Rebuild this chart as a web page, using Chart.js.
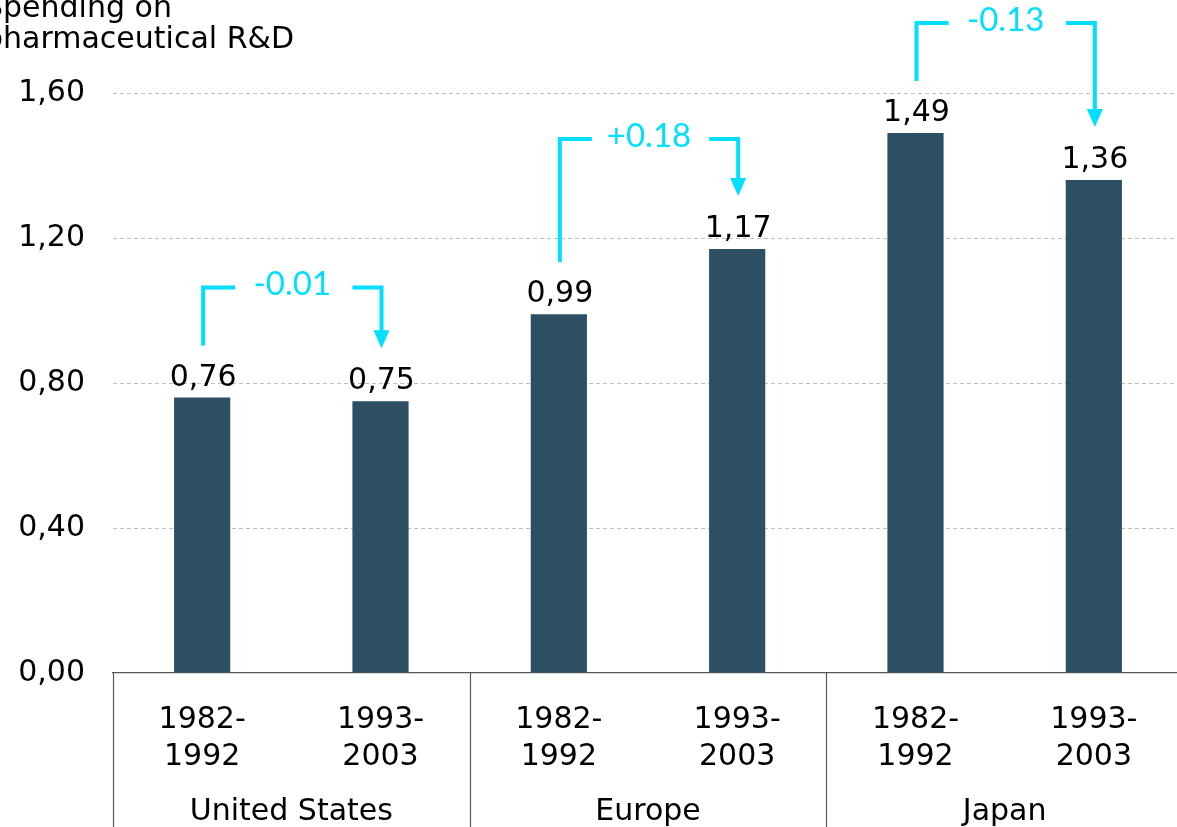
<!DOCTYPE html>
<html>
<head>
<meta charset="utf-8">
<script src="https://cdn.jsdelivr.net/npm/chart.js@4"></script>
<style>
  html, body { margin: 0; padding: 0; background: #fff; overflow: hidden; }
  #wrap { width: 1183px; height: 827px; position: relative; }
</style>
</head>
<body>
<div id="wrap"><canvas id="chart"></canvas></div>
<script>
    // datos
    const titleLines = ["Spending on", "pharmaceutical R&D"];
    const groups = ["United States", "Europe", "Japan"];
    const periods = [["1982-", "1992"], ["1993-", "2003"]];
    const values = [0.76, 0.75, 0.99, 1.17, 1.49, 1.36];
    const changes = ["-0.01", "+0.18", "-0.13"];
    const yTicks = [0, 0.4, 0.8, 1.2, 1.6];

    const labels = [];
    groups.forEach(() => periods.forEach(p => labels.push(p)));

    const fuente = '"DejaVu Sans", Verdana, sans-serif';
    const cian = "#00DFFF";
    const fmt = v => v.toFixed(2).replace(".", ",");

    const extras = {
        id: "extras",
        afterDraw(chart) {
            const ctx = chart.ctx;
            const x = chart.scales.x;
            const area = chart.chartArea;
            const meta = chart.getDatasetMeta(0);
            ctx.save();

            // titulo (cortado a la izquierda)
            ctx.fillStyle = "#000";
            ctx.font = "30px " + fuente;
            ctx.textAlign = "left";
            ctx.textBaseline = "alphabetic";
            ctx.fillText(titleLines[0], -16, 17);
            ctx.fillText(titleLines[1], -16, 48);

            // etiquetas de valor
            ctx.textAlign = "center";
            meta.data.forEach((bar, i) => {
                ctx.fillText(fmt(values[i]), bar.x + 1, bar.y - 12);
            });

            // separadores de grupo y nombres
            ctx.strokeStyle = "#595959";
            ctx.lineWidth = 1.2;
            for (let g = 0; g <= groups.length; g++) {
                const px = Math.round(x.getPixelForValue(g * 2 - 0.5)) + 0.5;
                ctx.beginPath();
                ctx.moveTo(px, area.bottom);
                ctx.lineTo(px, chart.height);
                ctx.stroke();
            }
            groups.forEach((name, g) => {
                const cx = (x.getPixelForValue(g * 2 - 0.5) + x.getPixelForValue(g * 2 + 1.5)) / 2;
                ctx.fillText(name, cx, 820);
            });

            // corchetes de cambio
            ctx.strokeStyle = cian;
            ctx.fillStyle = cian;
            ctx.lineWidth = 4;
            changes.forEach((txt, g) => {
                const b1 = meta.data[g * 2];
                const b2 = meta.data[g * 2 + 1];
                const x1 = b1.x + 1, x2 = b2.x + 1;
                const nivel = Math.min(b1.y, b2.y) - 110;
                const mid = (x1 + x2) / 2;
                const gap = 32;
                const punta = b2.y - 53;
                ctx.beginPath();
                ctx.moveTo(x1, b1.y - 52);
                ctx.lineTo(x1, nivel);
                ctx.lineTo(x1 + gap, nivel);
                ctx.moveTo(x2 - gap + 3, nivel);
                ctx.lineTo(x2, nivel);
                ctx.lineTo(x2, punta - 16);
                ctx.stroke();
                ctx.beginPath();
                ctx.moveTo(x2 - 8, punta - 18);
                ctx.lineTo(x2 + 8, punta - 18);
                ctx.lineTo(x2, punta);
                ctx.closePath();
                ctx.fill();
                ctx.font = '33px Lato, "Open Sans", sans-serif';
                ctx.textAlign = "center";
                ctx.textBaseline = "middle";
                ctx.fillText(txt, mid, nivel - 3);
            });
            ctx.restore();
        }
    };

    new Chart(document.getElementById("chart"), {
        type: "bar",
        data: {
            labels: labels,
            datasets: [{
                data: values,
                backgroundColor: "#2C4F64",
                categoryPercentage: 1,
                barPercentage: 0.315
            }]
        },
        options: {
            responsive: true,
            maintainAspectRatio: false,
            animation: false,
            layout: { padding: { top: 93, right: 0, bottom: 0, left: 0 } },
            plugins: {
                legend: { display: false },
                tooltip: { enabled: false }
            },
            scales: {
                x: {
                    grid: { display: false },
                    border: { display: true, color: "#595959", width: 1.2 },
                    ticks: {
                        color: "#000",
                        font: { family: fuente, size: 30, lineHeight: 1.23 },
                        padding: 21,
                        maxRotation: 0,
                        autoSkip: false
                    },
                    afterFit: s => { s.height = 154; }
                },
                y: {
                    min: 0,
                    max: 1.6,
                    afterBuildTicks: s => { s.ticks = yTicks.map(v => ({ value: v })); },
                    grid: {
                        drawTicks: false,
                        color: c => c.tick.value === 0 ? "rgba(0,0,0,0)" : "#BFBFBF",
                        lineWidth: 1
                    },
                    border: { display: false, dash: [4, 3] },
                    ticks: {
                        color: "#000",
                        font: { family: fuente, size: 30 },
                        padding: 28,
                        callback: v => fmt(v)
                    },
                    afterFit: s => { s.width = 113; }
                }
            }
        },
        plugins: [extras]
    });
</script>
</body>
</html>
